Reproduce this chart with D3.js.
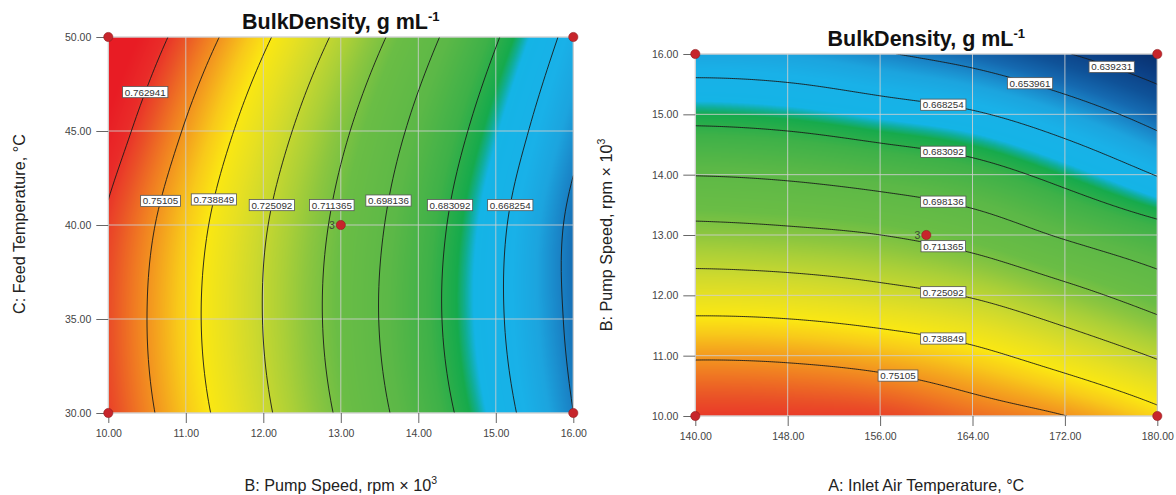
<!DOCTYPE html>
<html>
<head>
<meta charset="utf-8">
<script src="https://cdn.jsdelivr.net/npm/d3@7"></script>
<style>
  body { margin: 0; background: #fff; }
  svg { display: block; font-family: "Liberation Sans", Arial, sans-serif; }
</style>
</head>
<body>
<svg id="chart" width="1176" height="495"></svg>
<script>
// ---- Response surface of bulk density (g/mL) ----
// Panel 1: B (pump speed, rpm x 10^3) against C (feed temperature, °C), A held at centre
const pumpSpeedTicks = [10, 11, 12, 13, 14, 15, 16];
const feedTempTicks = [30, 35, 40, 45, 50];
// rows follow feedTempTicks, columns follow pumpSpeedTicks
const bulkDensityBC = [
  [0.7612, 0.7443, 0.7272, 0.7096, 0.6915, 0.6733, 0.6540],
  [0.7598, 0.7423, 0.7249, 0.7071, 0.6887, 0.6703, 0.6515],
  [0.7615, 0.7441, 0.7262, 0.7085, 0.6900, 0.6711, 0.6514],
  [0.7684, 0.7501, 0.7319, 0.7136, 0.6950, 0.6763, 0.6571],
  [0.7768, 0.7588, 0.7408, 0.7224, 0.7034, 0.6841, 0.6643]
];

// Panel 2: A (inlet air temperature, °C) against B (pump speed), C held at centre
const inletTempTicks = [140, 148, 156, 164, 172, 180];
// rows follow pumpSpeedTicks, columns follow inletTempTicks
const bulkDensityAB = [
  [0.7622, 0.7620, 0.7610, 0.7560, 0.7512, 0.7421],
  [0.7500, 0.7493, 0.7467, 0.7417, 0.7337, 0.7240],
  [0.7328, 0.7318, 0.7288, 0.7242, 0.7156, 0.7055],
  [0.7154, 0.7140, 0.7114, 0.7059, 0.6967, 0.6883],
  [0.6978, 0.6963, 0.6929, 0.6882, 0.6791, 0.6677],
  [0.6796, 0.6780, 0.6741, 0.6696, 0.6606, 0.6488],
  [0.6608, 0.6595, 0.6549, 0.6490, 0.6399, 0.6295]
];

const contourLevels = [0.639231, 0.653961, 0.668254, 0.683092, 0.698136, 0.711365, 0.725092, 0.738849, 0.75105, 0.762941];

// design points (factorial corners + centre point)
const designPointsBC = [[10, 30], [10, 50], [16, 30], [16, 50], [13, 40]];
const designPointsAB = [[140, 10], [140, 16], [180, 10], [180, 16], [160, 13]];
const centreReplicates = 3;

// ---- colour ramp (low = blue, high = red) ----
const rampValues = [0.628, 0.636, 0.644, 0.650, 0.655, 0.660, 0.666, 0.6755, 0.6775, 0.6795, 0.686, 0.696, 0.708, 0.715, 0.720, 0.727, 0.733, 0.739, 0.744, 0.749, 0.754, 0.759, 0.764, 0.770];
const rampColors = ["#082d68", "#0b3d82", "#0f5298", "#1569b0", "#1a86c8", "#1ca4de", "#19b1e8", "#14b4e6", "#10ae95", "#16aa4c", "#3eb148", "#5cb847", "#6abd45", "#8cc63f", "#a9cf38", "#cdd92e", "#e7e022", "#fbe812", "#f8ca1a", "#f4a21e", "#f07b22", "#ea5227", "#e92c29", "#e81c24"];
const colorScale = d3.scaleLinear().domain(rampValues).range(rampColors)
  .interpolate(d3.interpolateRgb).clamp(true);

// colour lookup table for fast raster fill
const LUT_MIN = 0.62, LUT_MAX = 0.78, LUT_N = 1601;
const lut = d3.range(LUT_N).map(i => d3.rgb(colorScale(LUT_MIN + (LUT_MAX - LUT_MIN) * i / (LUT_N - 1))));

// Smooth surface through a regular grid (Catmull-Rom in both directions)
function makeSurface(xs, ys, grid) {
  const nx = xs.length, ny = ys.length;
  const extend = a => {
    const n = a.length;
    return [3 * a[0] - 3 * a[1] + a[2], ...a, 3 * a[n - 1] - 3 * a[n - 2] + a[n - 3]];
  };
  const rows = grid.map(extend);
  const E = [];
  E.push(rows[0].map((v, k) => 3 * v - 3 * rows[1][k] + rows[2][k]));
  rows.forEach(r => E.push(r));
  E.push(rows[ny - 1].map((v, k) => 3 * v - 3 * rows[ny - 2][k] + rows[ny - 3][k]));
  const cr = (p0, p1, p2, p3, t) =>
    p1 + 0.5 * t * (p2 - p0 + t * (2 * p0 - 5 * p1 + 4 * p2 - p3 + t * (3 * (p1 - p2) + p3 - p0)));
  const dx = xs[1] - xs[0], dy = ys[1] - ys[0];
  return (x, y) => {
    const u = (x - xs[0]) / dx, v = (y - ys[0]) / dy;
    const i = Math.min(nx - 2, Math.max(0, Math.floor(u)));
    const j = Math.min(ny - 2, Math.max(0, Math.floor(v)));
    const tu = u - i, tv = v - j;
    const r = [];
    for (let k = 0; k < 4; k++) {
      const row = E[j + k];
      r.push(cr(row[i], row[i + 1], row[i + 2], row[i + 3], tu));
    }
    return cr(r[0], r[1], r[2], r[3], tv);
  };
}

const fmt = d3.format(".2f");
const svg = d3.select("#chart");

const panels = [
  {
    key: "bc",
    xTicks: pumpSpeedTicks, yTicks: feedTempTicks,
    surface: makeSurface(pumpSpeedTicks, feedTempTicks, bulkDensityBC),
    box: { x0: 108.3, y0: 37, x1: 573.3, y1: 413 },
    titleY: 29,
    xTitle: ["B: Pump Speed, rpm × 10", "3"], xTitleY: 491,
    yTitle: ["C: Feed Temperature, °C", null], yTitleX: 25, yTitleYc: 224,
    points: designPointsBC,
    // labels sit on each contour at the given feed temperature
    labels: [[0.762941, 47.07], [0.75105, 41.28], [0.738849, 41.36], [0.725092, 41.06],
             [0.711365, 41.06], [0.698136, 41.3], [0.683092, 41.06], [0.668254, 41.06]],
    labelAlong: "x"
  },
  {
    key: "ab",
    xTicks: inletTempTicks, yTicks: pumpSpeedTicks,
    surface: makeSurface(inletTempTicks, pumpSpeedTicks, bulkDensityAB),
    box: { x0: 695.3, y0: 54, x1: 1157.3, y1: 416 },
    titleY: 46,
    xTitle: ["A: Inlet Air Temperature, °C", null], xTitleY: 491,
    yTitle: ["B: Pump Speed, rpm × 10", "3"], yTitleX: 612, yTitleYc: 235,
    points: designPointsAB,
    // labels sit on each contour at the given inlet temperature
    labels: [[0.639231, 176.05], [0.653961, 168.98], [0.668254, 161.47], [0.683092, 161.47],
             [0.698136, 161.47], [0.711365, 161.47], [0.725092, 161.47], [0.738849, 161.47],
             [0.75105, 157.55]],
    labelAlong: "y"
  }
];

panels.forEach(p => {
  const b = p.box;
  const W = b.x1 - b.x0, H = b.y1 - b.y0;
  const xDom = d3.extent(p.xTicks), yDom = d3.extent(p.yTicks);
  const x = d3.scaleLinear().domain(xDom).range([b.x0, b.x1]);
  const y = d3.scaleLinear().domain(yDom).range([b.y1, b.y0]);
  const f = p.surface;
  const g = svg.append("g");

  // ---- raster fill ----
  const cw = Math.round(W), ch = Math.round(H);
  const canvas = document.createElement("canvas");
  canvas.width = cw; canvas.height = ch;
  const ctx = canvas.getContext("2d");
  const img = ctx.createImageData(cw, ch);
  for (let py = 0; py < ch; py++) {
    const yv = y.invert(b.y0 + (py + 0.5) * H / ch);
    for (let px = 0; px < cw; px++) {
      const xv = x.invert(b.x0 + (px + 0.5) * W / cw);
      const v = f(xv, yv);
      let k = Math.round((v - LUT_MIN) / (LUT_MAX - LUT_MIN) * (LUT_N - 1));
      k = Math.max(0, Math.min(LUT_N - 1, k));
      const c = lut[k], o = (py * cw + px) * 4;
      img.data[o] = c.r; img.data[o + 1] = c.g; img.data[o + 2] = c.b; img.data[o + 3] = 255;
    }
  }
  ctx.putImageData(img, 0, 0);
  g.append("image")
    .attr("x", b.x0).attr("y", b.y0).attr("width", W).attr("height", H)
    .attr("preserveAspectRatio", "none")
    .attr("href", canvas.toDataURL());

  // ---- grid lines ----
  const grid = g.append("g").attr("stroke", "#cfcfcf").attr("stroke-opacity", 0.85).attr("stroke-width", 1);
  grid.selectAll(".gx").data(p.xTicks).join("line")
    .attr("x1", d => x(d)).attr("x2", d => x(d)).attr("y1", b.y0).attr("y2", b.y1);
  grid.selectAll(".gy").data(p.yTicks).join("line")
    .attr("y1", d => y(d)).attr("y2", d => y(d)).attr("x1", b.x0).attr("x2", b.x1);

  // ---- contour lines ----
  const STEP = 2;
  const nx = Math.floor(W / STEP) + 1, ny = Math.floor(H / STEP) + 1;
  const values = new Float64Array(nx * ny);
  for (let j = 0; j < ny; j++) {
    const yv = y.invert(b.y0 + j * H / (ny - 1));
    for (let i = 0; i < nx; i++) {
      values[j * nx + i] = f(x.invert(b.x0 + i * W / (nx - 1)), yv);
    }
  }
  const contours = d3.contours().size([nx, ny]).thresholds(contourLevels)(values);
  const toPx = d3.geoTransform({
    point(cx, cy) {
      this.stream.point(
        x(x.invert(b.x0 + (cx - 0.5) * W / (nx - 1))),
        y(y.invert(b.y0 + (cy - 0.5) * H / (ny - 1))));
    }
  });
  const path = d3.geoPath(toPx);
  const clipId = "clip-" + p.key;
  svg.append("clipPath").attr("id", clipId)
    .append("rect").attr("x", b.x0).attr("y", b.y0).attr("width", W).attr("height", H);
  g.append("g").attr("clip-path", `url(#${clipId})`)
    .selectAll("path").data(contours).join("path")
    .attr("d", path)
    .attr("fill", "none").attr("stroke", "#1a1a1a").attr("stroke-width", 0.9);

  // plot frame
  g.append("rect").attr("x", b.x0).attr("y", b.y0).attr("width", W).attr("height", H)
    .attr("fill", "none").attr("stroke", "#d4d4d4").attr("stroke-width", 1);

  // ---- axes ----
  const xAxis = g.append("g").attr("transform", `translate(0,${b.y1})`)
    .call(d3.axisBottom(x).tickValues(p.xTicks).tickFormat(fmt).tickSize(10).tickSizeOuter(0).tickPadding(7));
  const yAxis = g.append("g").attr("transform", `translate(${b.x0},0)`)
    .call(d3.axisLeft(y).tickValues(p.yTicks).tickFormat(fmt).tickSize(12).tickSizeOuter(0).tickPadding(5));
  [xAxis, yAxis].forEach(a => {
    a.select(".domain").remove();
    a.selectAll(".tick line").attr("stroke", "#666");
    a.selectAll(".tick text").attr("fill", "#444").attr("font-size", 10.5)
      .attr("font-family", "'Liberation Sans', Arial, sans-serif");
  });

  // ---- contour labels ----
  function solve(level, fixed) {
    // find the coordinate along the free axis where the surface meets the level
    let lo, hi;
    const along = p.labelAlong;
    const evalAt = t => along === "x" ? f(t, fixed) : f(fixed, t);
    [lo, hi] = along === "x" ? xDom : yDom;
    let flo = evalAt(lo) - level;
    for (let it = 0; it < 60; it++) {
      const mid = (lo + hi) / 2, fm = evalAt(mid) - level;
      if ((fm > 0) === (flo > 0)) { lo = mid; flo = fm; } else { hi = mid; }
    }
    return (lo + hi) / 2;
  }
  const lab = g.append("g");
  p.labels.forEach(([level, fixed]) => {
    const t = solve(level, fixed);
    const cx = p.labelAlong === "x" ? x(t) : x(fixed);
    const cy = p.labelAlong === "x" ? y(fixed) : y(t);
    const lg = lab.append("g");
    const txt = lg.append("text").attr("x", cx).attr("y", cy + 3.5)
      .attr("text-anchor", "middle").attr("font-size", 9.8).attr("fill", "#333")
      .text(String(level));
    const tw = txt.node().getComputedTextLength();
    lg.insert("rect", "text")
      .attr("x", cx - tw / 2 - 2.2).attr("y", cy - 5.6)
      .attr("width", tw + 4.4).attr("height", 11.2)
      .attr("fill", "#fff").attr("stroke", "#555").attr("stroke-width", 0.8);
  });

  // ---- design points ----
  g.append("g").selectAll("circle").data(p.points).join("circle")
    .attr("cx", d => x(d[0])).attr("cy", d => y(d[1])).attr("r", 4.6)
    .attr("fill", "#c7252b").attr("stroke", "#8e1b1f").attr("stroke-width", 0.6);
  const centre = p.points[p.points.length - 1];
  g.append("text").attr("x", x(centre[0]) - 6).attr("y", y(centre[1]) + 3.6)
    .attr("text-anchor", "end").attr("font-size", 10.5).attr("fill", "#3d4a35")
    .text(centreReplicates);

  // ---- titles ----
  const title = g.append("text").attr("x", (b.x0 + b.x1) / 2).attr("y", p.titleY)
    .attr("text-anchor", "middle").attr("font-size", 21.5).attr("font-weight", "bold").attr("fill", "#111");
  title.append("tspan").text("BulkDensity, g mL");
  title.append("tspan").attr("font-size", 13).attr("dy", -8.5).text("-1");

  const xt = g.append("text").attr("x", (b.x0 + b.x1) / 2).attr("y", p.xTitleY)
    .attr("text-anchor", "middle").attr("font-size", 16.2).attr("fill", "#222");
  xt.append("tspan").text(p.xTitle[0]);
  if (p.xTitle[1]) xt.append("tspan").attr("font-size", 10.5).attr("dy", -7).text(p.xTitle[1]);

  const yt = g.append("text")
    .attr("transform", `translate(${p.yTitleX},${p.yTitleYc}) rotate(-90)`)
    .attr("text-anchor", "middle").attr("font-size", 16.2).attr("fill", "#222");
  yt.append("tspan").text(p.yTitle[0]);
  if (p.yTitle[1]) yt.append("tspan").attr("font-size", 10.5).attr("dy", -7).text(p.yTitle[1]);
});
</script>
</body>
</html>
